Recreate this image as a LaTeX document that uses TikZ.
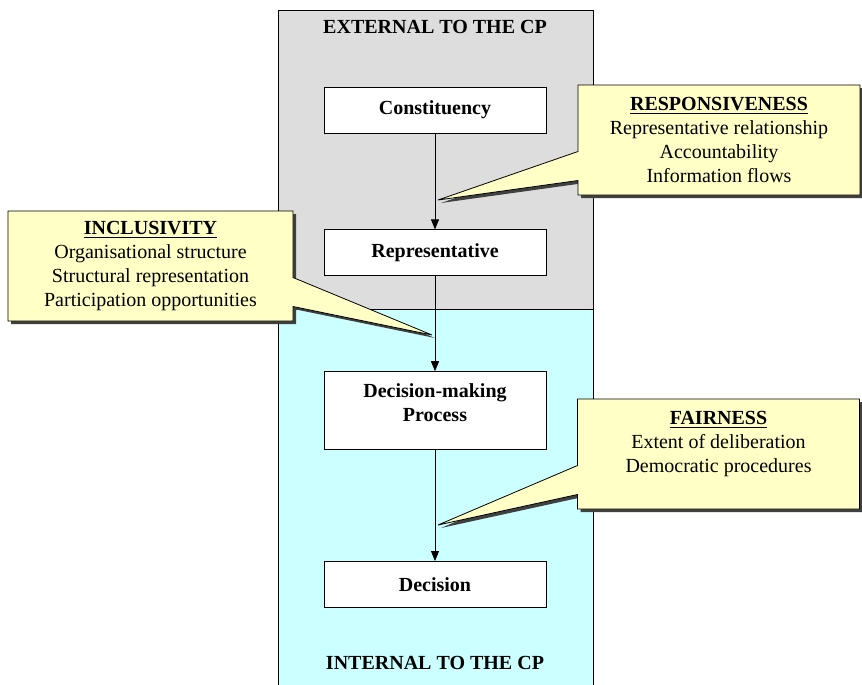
\documentclass[tikz,border=0pt]{standalone}
\usepackage{fontspec}
\setmainfont{Liberation Serif}
\usetikzlibrary{positioning, shapes.callouts, shadows, arrows.meta}
\definecolor{ZoneGrey}{HTML}{DDDDDD}
\definecolor{ZoneCyan}{HTML}{CCFFFF}
\definecolor{NoteYellow}{HTML}{FFFFC6}

\begin{document}
\begin{tikzpicture}[x=0.5pt, y=-0.5pt, >={Triangle[length=5pt, width=4pt]},
        stepbox/.style={rectangle, draw, fill=white, minimum width=111pt, minimum height=23pt, align=center, font=\bfseries},
        zonelabel/.style={font=\bfseries},
        note/.style={rectangle callout, draw, fill=NoteYellow, minimum width=141pt, minimum height=55pt, align=center,
            callout pointer width=14.5pt,
            drop shadow={shadow xshift=1.5pt, shadow yshift=-1.5pt, fill=black!75, opacity=1}},
        arrow/.style={->}]
        \useasboundingbox (0,0) rectangle (862,685);

        % zones
        \draw[fill=ZoneGrey] (278,10) rectangle (593,309);
        \fill[ZoneCyan] (278,309) rectangle (593,685);
        \draw (278,685) -- (278,309) -- (593,309) -- (593,685);
        \node[zonelabel] (ext) at (435,27) {EXTERNAL TO THE CP};
        \node[zonelabel] (int) at (435,663) {INTERNAL TO THE CP};

        % chain
        \node[stepbox] (const) at (435,110) {Constituency};
        \node[stepbox, below=48pt of const] (rep) {Representative};
        \node[stepbox, minimum height=39pt, inner ysep=1.5pt, below=47.5pt of rep] (dmp) {Decision-making\\Process\\[-4pt]\mbox{}};
        \node[stepbox, below=55.5pt of dmp] (dec) {Decision};

        \draw[arrow] (const) -- (rep);
        \draw[arrow] (rep) -- (dmp);
        \draw[arrow] (dmp) -- (dec);

        % callouts
        \node[note, callout absolute pointer={(438,200)}] (resp) at (719,140)
            {\underline{\textbf{RESPONSIVENESS}}\\Representative relationship\\Accountability\\Information flows};
        \node[note, minimum width=142.5pt, callout absolute pointer={(432,335)}] (incl) at (150.5,266)
            {\underline{\textbf{INCLUSIVITY}}\\Organisational structure\\Structural representation\\Participation opportunities};
        \node[note, callout absolute pointer={(438,525)}] (fair) at (718.5,454)
            {\underline{\textbf{FAIRNESS}}\\Extent of deliberation\\Democratic procedures\\\mbox{}};
\end{tikzpicture}
\end{document}
